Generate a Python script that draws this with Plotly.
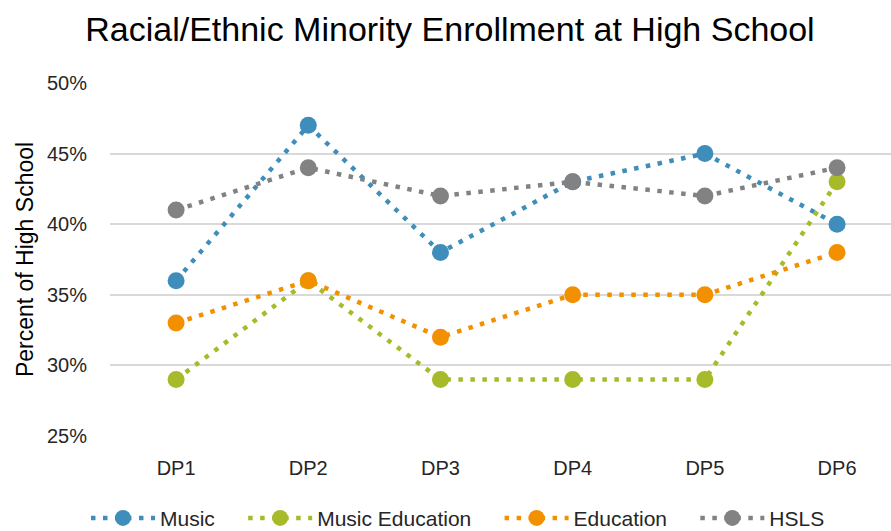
import plotly.graph_objects as go

categories = ["DP1", "DP2", "DP3", "DP4", "DP5", "DP6"]
music = [0.36, 0.47, 0.38, 0.43, 0.45, 0.40]
music_education = [0.29, 0.36, 0.29, 0.29, 0.29, 0.43]
education = [0.33, 0.36, 0.32, 0.35, 0.35, 0.38]
hsls = [0.41, 0.44, 0.42, 0.43, 0.42, 0.44]

series = [
    ("Music", music, "#3E8DBA"),
    ("Music Education", music_education, "#A6BA2A"),
    ("Education", education, "#F39000"),
    ("HSLS", hsls, "#828282"),
]

FONT = "Liberation Sans"
# extra spacing after each legend entry except the last
PAD = "\u00a0" * 4

fig = go.Figure()
for i, (name, vals, color) in enumerate(series):
    label = name + (PAD if i < len(series) - 1 else "")
    fig.add_trace(go.Scatter(
        x=categories, y=vals, name=label, mode="lines+markers",
        line=dict(color=color, width=4.5, dash="4.5px,7.5px"),
        marker=dict(color=color, size=17),
    ))

fig.update_layout(
    width=891, height=531,
    paper_bgcolor="white", plot_bgcolor="white",
    margin=dict(l=110, r=0, t=83, b=95, autoexpand=False),
    title=dict(text="Racial/Ethnic Minority Enrollment at High School",
               x=0.505, xanchor="center", y=0.945, yanchor="middle",
               font=dict(family=FONT, size=34, color="#000000")),
    font=dict(family=FONT, color="#262626"),
    showlegend=True,
    legend=dict(orientation="h", xref="container", yref="container",
                x=0.514, xanchor="center", y=0.024, yanchor="middle",
                font=dict(family=FONT, size=21, color="#262626"),
                itemwidth=64, traceorder="normal"),
    xaxis=dict(type="category", range=[-0.5, 5.408], showgrid=False,
               showline=False, zeroline=False, ticks="",
               ticklabelstandoff=18,
               tickfont=dict(size=20, color="#262626")),
    yaxis=dict(range=[0.25, 0.5], dtick=0.05, tickformat=".0%",
               showgrid=True, gridcolor="#D9D9D9", gridwidth=1.5,
               zeroline=False, showline=False, ticks="",
               ticklabelstandoff=22,
               tickfont=dict(size=20, color="#262626"),
               title=dict(text="Percent of High School", standoff=6,
                          font=dict(size=23, color="#000000"))),
)

fig.write_html("out.html")
